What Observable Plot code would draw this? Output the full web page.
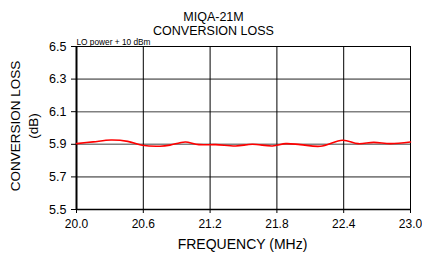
<!DOCTYPE html>
<html>
<head>
<meta charset="utf-8">
<script src="https://cdn.jsdelivr.net/npm/d3@7"></script>
<script src="https://cdn.jsdelivr.net/npm/@observablehq/plot@0.6"></script>
<style>
  html, body { margin: 0; padding: 0; background: #fff; }
  svg { font-family: "Liberation Sans", Arial, sans-serif; }
</style>
</head>
<body>
<div id="chart"></div>
<script>
const freq = [20.0, 20.15, 20.31, 20.46, 20.59, 20.75, 20.84, 20.93, 20.98, 21.10, 21.25, 21.43, 21.58, 21.76, 21.88, 22.01, 22.19, 22.39, 22.53, 22.67, 22.82, 23.0];
const loss = [5.904, 5.915, 5.926, 5.918, 5.894, 5.888, 5.895, 5.910, 5.914, 5.898, 5.898, 5.890, 5.900, 5.890, 5.904, 5.898, 5.888, 5.925, 5.904, 5.912, 5.904, 5.914];
const xTicks = [20.0, 20.6, 21.2, 21.8, 22.4, 23.0];
const yTicks = [5.5, 5.7, 5.9, 6.1, 6.3, 6.5];
const titleLines = ["MIQA-21M", "CONVERSION LOSS"];
const note = "LO power + 10 dBm";
const xLabel = "FREQUENCY (MHz)";
const yLabelLines = ["CONVERSION LOSS", "(dB)"];

const data = freq.map((f, i) => ({f, v: loss[i]}));

const chart = Plot.plot({
  width: 422,
  height: 261,
  marginLeft: 76,
  marginRight: 12,
  marginTop: 46,
  marginBottom: 52,
  style: {fontFamily: "Liberation Sans, Arial, sans-serif", background: "#fff", overflow: "visible"},
  x: {domain: [20, 23], ticks: xTicks, tickFormat: d => d.toFixed(1)},
  y: {domain: [5.5, 6.5], ticks: yTicks, tickFormat: d => d.toFixed(1)},
  marks: [
    Plot.ruleY(yTicks.slice(1, -1), {stroke: "#808080", strokeWidth: 1.6}),
    Plot.ruleX(xTicks.slice(1), {stroke: "#000", strokeWidth: 1}),
    Plot.ruleY([6.5], {stroke: "#000", strokeWidth: 1}),
    Plot.ruleY([5.5], {stroke: "#000", strokeWidth: 1.5}),
    Plot.ruleX([20], {stroke: "#000", strokeWidth: 2}),
    Plot.axisX({ticks: xTicks, tickFormat: d => d.toFixed(1), tickSize: 4, tickPadding: 6, fontSize: 12, label: null, stroke: "#000", color: "#000"}),
    Plot.axisY({ticks: yTicks, tickFormat: d => d.toFixed(1), tickSize: 5, tickPadding: 5, fontSize: 12.5, label: null, stroke: "#000", color: "#000"}),
    Plot.line(data, {x: "f", y: "v", stroke: "#ff0000", strokeWidth: 1.6, curve: "catmull-rom"}),
    Plot.text([titleLines[0]], {frameAnchor: "top", dx: -30, dy: -34, fontSize: 12.5, fill: "#000"}),
    Plot.text([titleLines[1]], {frameAnchor: "top", dx: -30, dy: -20, fontSize: 12.5, fill: "#000"}),
    Plot.text([note], {frameAnchor: "top-left", lineAnchor: "bottom", dx: 0, dy: -1.5, fontSize: 8.3, fill: "#000", textAnchor: "start"}),
    Plot.text([xLabel], {frameAnchor: "bottom", dx: -1, dy: 39, fontSize: 14, fill: "#000"}),
    Plot.text([yLabelLines[0]], {frameAnchor: "left", dx: -61, dy: -2, rotate: -90, textAnchor: "middle", fontSize: 13.5, fill: "#000"}),
    Plot.text([yLabelLines[1]], {frameAnchor: "left", dx: -43, dy: -2, rotate: -90, textAnchor: "middle", fontSize: 13.5, fill: "#000"})
  ]
});
document.getElementById("chart").appendChild(chart);
</script>
</body>
</html>
